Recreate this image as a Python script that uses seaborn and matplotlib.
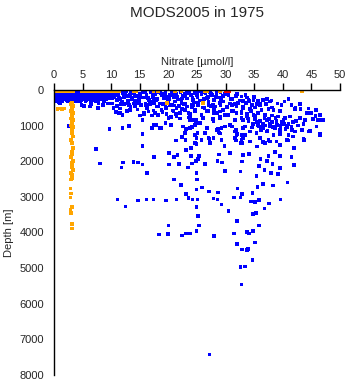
import matplotlib
matplotlib.use("Agg")
import matplotlib.pyplot as plt
import seaborn as sns
import pandas as pd

sns.set_style("white")
plt.rcParams['font.family'] = ['Liberation Sans', 'DejaVu Sans']

title = "MODS2005 in 1975"
xlabel = "Nitrate [\u00b5mol/l]"
ylabel = "Depth [m]"
xticks = [0, 5, 10, 15, 20, 25, 30, 35, 40, 45, 50]
yticks = [0, 1000, 2000, 3000, 4000, 5000, 6000, 7000, 8000]

# ---- blue: surface block ----
surf_n = [0.2, 0.7, 1.2, 1.7, 2.2, 2.7, 3.2, 3.7, 4.2, 4.7, 5.2, 5.7, 6.2, 6.7, 7.2, 7.7, 8.2, 8.7, 9.2, 9.7, 10.2,
          0.2, 0.7, 1.2, 1.7, 2.2, 2.7, 3.2, 3.7, 4.2, 4.7, 5.2, 5.7, 6.2, 6.7, 7.2, 7.7, 8.2, 8.7, 9.2, 9.7, 10.2,
          0.2, 0.7, 1.2, 1.7, 2.2, 2.7, 3.2, 3.7, 4.2, 4.7, 5.2, 5.7, 6.2, 6.7, 7.2, 7.7, 8.2, 8.7, 9.2, 9.7, 10.2,
          0.2, 0.7, 1.2, 1.7, 2.2, 2.7, 3.2, 3.7, 4.2, 4.7, 5.2, 5.7, 6.2, 6.7, 7.2, 7.7, 8.2, 8.7, 9.2, 9.7, 10.2,
          0.2, 0.7, 1.2, 1.7, 2.2, 2.7, 3.2, 3.7, 4.2, 4.7, 5.2, 5.7, 6.2, 6.7, 7.2, 7.7, 8.2, 8.7, 9.2, 9.7, 10.2,
          0.3, 0.9, 1.5, 2.4, 3.0, 3.8, 4.6, 5.5, 6.4, 7.4, 8.8, 1.1]
surf_d = [30, 45, 35, 50, 40, 30, 45, 35, 50, 40, 30, 45, 35, 50, 40, 30, 45, 35, 50, 40, 30,
          100, 90, 110, 95, 105, 100, 90, 110, 95, 105, 100, 90, 110, 95, 105, 100, 90, 110, 95, 105, 100,
          160, 170, 150, 165, 155, 160, 170, 150, 165, 155, 160, 170, 150, 165, 155, 160, 170, 150, 165, 155, 160,
          220, 210, 230, 215, 225, 220, 210, 230, 215, 225, 220, 210, 230, 215, 225, 220, 210, 230, 215, 225, 220,
          290, 300, 280, 270, 285, 295, 275, 290, 280, 300, 270, 285, 260, 280, 290, 270, 250, 280, 260, 240, 230,
          330, 340, 320, 330, 310, 330, 310, 330, 340, 320, 330, 380]

# ---- blue: shallow ragged band, nitrate 10-30 ----
shal_n = [10.8, 11.2, 11.6, 12.0, 12.3, 12.7, 13.0, 13.3, 13.7, 14.0, 14.4, 14.8, 15.1, 15.5, 15.8, 16.2, 16.6,
          17.0, 17.3, 17.7, 18.1, 18.4, 18.8, 19.2, 19.5, 19.9, 20.3, 20.6, 21.0, 21.4, 21.7, 22.1, 22.5, 22.8,
          23.2, 23.6, 24.0, 24.3, 24.7, 25.1, 25.4, 25.8, 26.2, 26.5, 26.9, 27.3, 27.6, 28.0, 28.4, 28.8, 29.1,
          29.5, 29.9, 10.5, 11.0, 11.9, 12.5, 13.5, 14.2, 15.0, 16.0, 16.9, 17.5, 18.0, 19.0, 19.7, 20.0, 21.2,
          22.3, 23.0, 24.5, 25.5, 27.0, 28.5,
          10.9, 11.4, 12.1, 12.9, 13.6, 14.1, 14.9, 15.6, 16.4, 17.2, 17.8, 18.6, 19.3, 20.1, 20.9, 21.6,
          22.4, 23.3, 24.2, 25.0, 25.9, 26.7, 27.5, 28.3, 29.2, 11.7, 13.1, 14.6, 16.1, 17.6, 19.4, 21.1,
          22.7, 24.4, 26.0, 27.8, 29.6, 31.0, 31.8]
shal_d = [60, 150, 250, 90, 200, 40, 300, 130, 220, 60, 170, 260, 100, 40, 210, 140, 280,
          70, 190, 120, 250, 50, 160, 230, 90, 300, 140, 60, 210, 120, 270, 50, 180, 100,
          240, 60, 150, 290, 90, 200, 40, 130, 260, 80, 190, 50, 150, 280, 100, 210, 60,
          170, 120, 200, 280, 330, 150, 80, 310, 200, 60, 330, 250, 30, 110, 200, 360, 330,
          300, 170, 350, 300, 340, 30,
          110, 230, 40, 180, 270, 120, 310, 60, 220, 150, 290, 80, 170, 260, 110, 190,
          240, 80, 210, 140, 60, 230, 110, 200, 250, 400, 430, 380, 420, 360, 410, 440,
          390, 420, 380, 410, 330, 260, 180]

# ---- blue: mid band 300-900 m ----
mid_n = [10.2, 11.0, 11.5, 12.3, 12.8, 13.4, 14.0, 14.6, 15.2, 15.7, 16.3, 16.8, 17.4, 17.9, 18.5, 19.0, 19.6,
         20.2, 20.8, 21.3, 21.9, 22.4, 23.0, 23.5, 24.1, 24.6, 25.2, 25.8, 26.3, 26.9, 27.4, 28.0, 28.5, 29.1,
         29.6, 30.2, 30.8, 31.3, 31.9, 10.8, 12.0, 13.0, 15.0, 16.0, 18.2, 20.5, 22.0, 23.8, 24.8, 26.0, 27.8,
         29.0, 30.5, 9.5, 8.6, 7.8, 6.5, 5.3, 1.3, 11.5, 7.7, 10.4, 6.3, 4.8, 14.2, 13.3, 16.2, 15.7, 15.5,
         16.2, 17.1, 18.2, 19.1, 20.6, 21.4, 22.3, 23.2, 24.1, 25.2, 26.1, 27.0, 28.1, 29.0, 30.2, 31.1, 32.2,
         33.1, 16.5, 17.7, 18.8, 19.7, 20.9, 22.0, 22.9, 23.8, 24.6, 25.8, 26.7, 27.9, 29.0, 29.9, 31.1, 31.9,
         32.8, 17.1, 20.0, 21.4, 23.5, 24.4, 26.1, 27.9, 29.0, 31.6, 32.8]
mid_d = [380, 450, 520, 400, 600, 470, 380, 550, 430, 650, 500, 400, 580, 470, 380, 620, 500,
         430, 580, 680, 450, 540, 400, 640, 480, 560, 420, 700, 500, 600, 450, 540, 650, 420,
         560, 480, 380, 600, 450, 620, 700, 360, 720, 380, 700, 760, 800, 750, 830, 780, 820,
         760, 700, 380, 420, 360, 400, 450, 310, 655, 515, 515, 468, 420, 468, 562, 420, 683, 843,
         422, 375, 468, 403, 422, 515, 375, 468, 422, 375, 497, 422, 468, 375, 497, 422, 375,
         468, 609, 656, 562, 684, 609, 656, 562, 684, 609, 703, 590, 656, 609, 703, 590, 656,
         609, 722, 797, 750, 778, 843, 797, 890, 797, 843, 797]

# ---- blue: 900-1500 m, nitrate 2-34 ----
low_n = [17.1, 17.9, 18.5, 22.6, 23.8, 24.6, 26.7, 28.4, 29.3, 31.1, 33.1, 22.9, 24.6, 24.9, 27.0, 27.9,
         31.6, 31.9, 31.6, 24.6, 32.8, 25.5, 27.9, 28.9, 29.9, 30.8, 31.8, 32.0, 32.8, 33.1, 32.6, 31.6,
         33.7, 28.7, 29.3, 27.2, 27.3, 26.4, 25.1, 24.7, 24.8, 24.1, 23.8, 23.1, 22.4, 23.0, 21.3, 2.6,
         9.7, 12.0, 13.1, 15.5, 17.5, 18.7, 20.5, 19.5, 15.5, 15.7, 11.4, 29.0]
low_d = [1078, 984, 1078, 1031, 1078, 984, 1078, 1124, 1078, 1031, 1078, 1218, 1265, 1359, 1359, 1359,
         1171, 1265, 1359, 1499, 1434, 937, 824, 1199, 1031, 984, 1124, 1236, 1264, 1358, 1499, 843,
         750, 1105, 1405, 1386, 1499, 1218, 1218, 1499, 937, 1050, 843, 1105, 1330, 1405, 1424, 1010,
         1100, 1070, 1010, 1240, 990, 1070, 990, 920, 843, 670, 650, 1220]

# ---- blue: right cloud, nitrate 30-47 ----
right_n = [32.8, 33.7, 33.0, 34.0, 34.9, 35.7, 36.6, 37.8, 33.6, 34.6, 35.4, 36.0, 37.1, 38.1, 39.8, 33.1,
           34.3, 35.1, 36.3, 37.5, 38.4, 39.5, 32.8, 33.7, 34.9, 35.7, 36.9, 38.1, 39.2, 40.4, 41.3, 42.1,
           43.1, 44.2, 45.3, 46.5, 43.0, 43.9, 33.1, 34.0, 35.1, 36.0, 37.2, 38.1, 38.9, 40.1, 41.0, 41.8,
           42.7, 43.6, 33.4, 34.6, 35.7, 36.6, 37.8, 38.6, 39.5, 40.7, 41.6, 42.1, 43.3, 44.5, 45.9, 46.5,
           34.3, 35.4, 37.2, 38.4, 39.5, 41.0, 41.8, 43.6, 44.8, 33.4, 36.0, 37.5, 38.9, 40.7, 32.8, 34.3,
           36.9, 36.5, 37.0, 37.8, 38.3, 39.0, 39.6, 40.2, 40.8, 36.2, 37.3, 35.5, 34.8, 33.9, 34.5, 35.2,
           36.8, 37.6, 38.7, 39.9, 40.5, 41.5, 42.3, 35.9, 30.5, 31.2, 32.0, 32.5, 31.6, 33.5, 34.2, 35.0,
           36.0, 37.2, 38.0, 39.1, 40.3, 41.5, 43.0, 44.5, 41.0, 42.2, 45.8, 46.5, 44.9, 47.0, 46.2, 46.5,
           43.7, 45.7]
right_d = [187, 216, 309, 281, 281, 309, 281, 328, 375, 422, 403, 440, 403, 497, 422, 515,
           534, 497, 562, 534, 562, 590, 656, 684, 703, 656, 703, 722, 750, 797, 750, 534,
           534, 656, 815, 843, 797, 843, 843, 890, 815, 871, 843, 909, 871, 843, 965, 909,
           1003, 965, 1031, 1059, 984, 1078, 1031, 1078, 1124, 1059, 1124, 1171, 1124, 1171, 1031, 1265,
           1171, 1218, 1171, 1265, 1246, 1265, 1312, 1377, 1153, 1265, 1359, 1406, 1452, 1406, 1406, 1452,
           1499, 950, 1000, 950, 1050, 990, 1020, 960, 1000, 1120, 1150, 900, 950, 800, 600, 740,
           780, 820, 780, 900, 1100, 1050, 880, 1030, 150, 250, 120, 300, 400, 150, 320, 200,
           380, 250, 300, 380, 330, 420, 400, 520, 260, 500, 560, 700, 640, 850, 843, 1236,
           1405, 730]

# ---- blue: deep sparse points ----
deep_n = [7.4, 15.5, 8.0, 12.1, 11.8, 13.9, 14.7, 15.5, 16.3, 17.5, 20.1, 21.0, 21.6, 23.1, 24.0, 24.9,
          24.0, 25.2, 24.1, 23.4, 24.9, 20.1, 21.9, 21.0, 22.2, 24.9, 24.9, 23.1, 23.5, 24.2, 25.1, 11.1,
          12.5, 14.7, 16.2, 17.4, 19.6, 21.4, 24.9, 25.1, 20.0, 25.4, 18.4, 19.9, 22.4, 23.1, 23.8, 24.9,
          25.8, 29.8, 31.8, 32.9, 35.5, 36.6, 37.8, 39.5, 40.9, 42.0, 43.8, 25.4, 28.9, 30.8, 33.1, 34.1,
          36.1, 37.5, 38.6, 39.5, 41.5, 24.8, 26.4, 28.6, 29.4, 32.9, 35.8, 37.2, 38.2, 39.5, 42.0, 29.9,
          32.6, 35.4, 36.8, 37.9, 39.2, 25.1, 25.9, 27.1, 28.7, 32.1, 32.9, 34.7, 35.6, 36.6, 38.3, 40.8,
          27.9, 28.6, 29.3, 31.5, 32.6, 34.4, 35.1, 35.9, 37.6, 39.6, 36.8, 25.2, 30.5, 32.0, 34.8, 35.3,
          35.9, 25.3, 28.0, 31.5, 33.7, 34.1, 34.8, 28.0, 32.0, 32.9, 33.9, 35.2, 34.7, 32.6, 33.4, 32.8,
          27.2, 33.7]
deep_d = [1667, 1573, 2061, 2033, 2173, 2014, 2033, 2089, 2341, 1892, 1779, 1892, 1826, 1686, 1855, 1517,
          1630, 1948, 2061, 2173, 2323, 2089, 2080, 2511, 2661, 2511, 2792, 2924, 3026, 3073, 3073, 3073,
          3270, 3101, 3073, 3073, 3101, 3073, 3279, 3551, 3804, 3804, 4057, 4039, 4086, 4029, 4029, 3954,
          1405, 1574, 1424, 1499, 1592, 1471, 1452, 1555, 1424, 1639, 1424, 1855, 1817, 1780, 1827, 1808,
          1930, 1855, 1742, 1855, 1874, 1986, 2080, 1986, 2033, 2005, 2136, 1986, 2080, 2192, 2108, 2277,
          2286, 2408, 2248, 2323, 2352, 2511, 2736, 2849, 2877, 2764, 2924, 2886, 2717, 2642, 2680, 2595,
          3045, 3073, 3214, 3017, 3017, 3130, 3148, 3092, 3186, 3073, 3326, 3541, 3391, 3672, 3485, 3448,
          3804, 3804, 4095, 4029, 3983, 4029, 3954, 4090, 4320, 4480, 4470, 4280, 4780, 4975, 4955, 5460,
          7428, 4496]

# ---- orange points ----
orng_n = [0.2, 0.6, 1.0, 1.4, 1.8, 2.2, 2.6, 3.0, 3.4, 4.9, 5.3, 5.7, 6.1, 6.5, 6.9, 7.3, 7.7, 8.1, 8.5,
          8.9, 9.3, 9.7, 10.1, 10.5, 11.0, 11.4, 13.9, 14.4, 17.4, 18.2, 21.2, 22.3, 26.4, 26.8, 29.0, 43.3,
          19.8, 26.1, 0.6, 1.0, 1.4, 1.7,
          3.2, 3.0, 3.3, 3.1, 3.2, 3.0, 3.3, 3.1, 3.2, 3.0, 3.3, 3.1, 3.2, 3.0, 3.3,
          3.2, 3.1, 3.3, 3.0, 3.2, 3.3, 3.1, 3.2, 3.0, 3.3, 3.2, 3.1, 3.3, 3.0, 3.2, 3.1, 3.0, 2.9, 3.0,
          2.9, 3.1, 2.9, 3.0, 3.2, 3.1]
orng_d = [25, 30, 25, 30, 25, 30, 25, 30, 25, 25, 30, 25, 30, 25, 30, 25, 30, 25, 30,
          25, 30, 25, 30, 25, 30, 40, 30, 40, 30, 25, 35, 30, 30, 35, 30, 45,
          375, 375, 530, 520, 540, 525,
          350, 400, 450, 500, 550, 600, 650, 700, 750, 800, 850, 900, 950, 1000, 1050,
          1105, 1217, 1311, 1405, 1499, 1639, 1733, 1798, 1891, 1986, 2042, 2172, 2248, 2323, 2389, 2464, 2510,
          2763, 2903, 3015, 3279, 3352, 3447, 3765, 3886]

# ---- red points ----
red_n = [30.0, 30.4, 30.7]
red_d = [25, 25, 40]

blue_n = surf_n + shal_n + mid_n + low_n + right_n + deep_n
blue_d = surf_d + shal_d + mid_d + low_d + right_d + deep_d

df = pd.DataFrame({
    "nitrate": blue_n + orng_n + red_n,
    "depth": blue_d + orng_d + red_d,
    "group": ["blue"] * len(blue_n) + ["orange"] * len(orng_n) + ["red"] * len(red_n),
})
palette = {"blue": "#0000ff", "orange": "#ffa500", "red": "#ff0000"}

fig = plt.figure(figsize=(3.48, 3.84), dpi=100)
ax = fig.add_axes([0.155, 0.0234, 0.822, 0.7425])
sns.scatterplot(data=df, x="nitrate", y="depth", hue="group", palette=palette,
                marker="s", s=7, linewidth=0, legend=False, ax=ax)

ax.set_xlim(0, 50)
ax.set_ylim(8000, 0)
ax.xaxis.tick_top()
ax.xaxis.set_label_position("top")
ax.set_xticks(xticks)
ax.set_yticks(yticks)
ax.set_xticklabels([str(t) for t in xticks], fontsize=8)
ax.set_yticklabels([str(t) for t in yticks], fontsize=8)
ax.set_xlabel(xlabel, fontsize=8, labelpad=4)
ax.set_ylabel(ylabel, fontsize=8, labelpad=4)
ax.tick_params(axis="both", direction="out", length=5, width=1, color="black", pad=2)
for side in ["right", "bottom"]:
    ax.spines[side].set_visible(False)
for side in ["left", "top"]:
    ax.spines[side].set_color("black")
    ax.spines[side].set_linewidth(1)
fig.text(0.566, 0.965, title, ha="center", va="center", fontsize=11)

fig.savefig("out.png", dpi=100)
